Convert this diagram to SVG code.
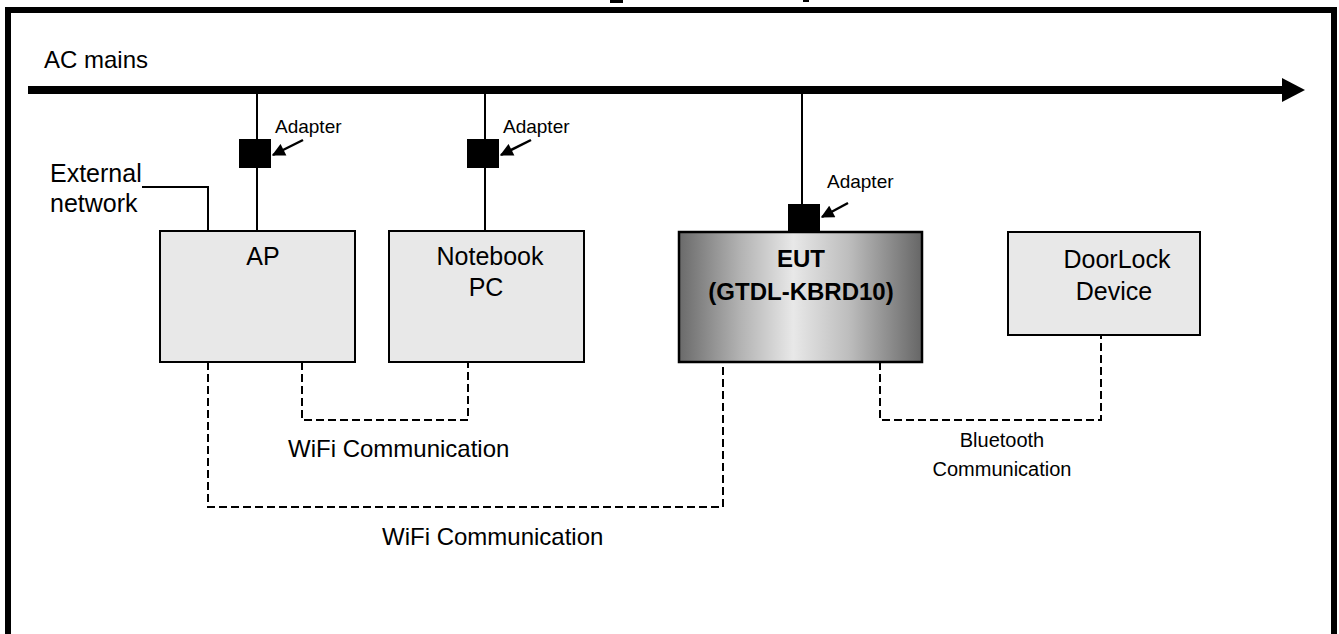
<svg xmlns="http://www.w3.org/2000/svg" width="1339" height="634" viewBox="0 0 1339 634">
  <style>
    .lbl { font-family: "Liberation Sans", Arial, sans-serif; fill: #000; }
    .box { fill: #e8e8e8; stroke: #000; stroke-width: 2; }
    .wire { stroke: #000; stroke-width: 2; fill: none; }
    .dash { stroke: #000; stroke-width: 2; stroke-dasharray: 8 4; fill: none; }
    .ptr { stroke: #000; stroke-width: 2.5; fill: none; marker-end: url(#head); }
    .plug { fill: #000; }
  </style>
  <defs>
    <linearGradient id="eutShade" x1="0" y1="0" x2="1" y2="0">
      <stop offset="0" stop-color="#6a6a6a"/>
      <stop offset="0.25" stop-color="#b2b2b2"/>
      <stop offset="0.47" stop-color="#e8e8e8"/>
      <stop offset="0.7" stop-color="#bdbdbd"/>
      <stop offset="1" stop-color="#666666"/>
    </linearGradient>
    <marker id="head" viewBox="0 0 10 10" refX="9" refY="5" markerWidth="15" markerHeight="13" markerUnits="userSpaceOnUse" orient="auto">
      <path d="M0,0 L10,5 L0,10 z" fill="#000"/>
    </marker>
  </defs>

  <rect width="1339" height="634" fill="#fff"/>

  <!-- frame (open at the bottom) -->
  <path d="M8,640 V10 H1334 V640" fill="none" stroke="#000" stroke-width="6"/>
  <rect x="610" y="0" width="13" height="3" fill="#000"/>
  <rect x="803" y="0" width="6" height="2" fill="#000"/>

  <!-- AC mains bus -->
  <g id="ac-mains">
    <text class="lbl" x="44" y="68" font-size="24">AC mains</text>
    <line x1="28" y1="90" x2="1284" y2="90" stroke="#000" stroke-width="8"/>
    <polygon points="1282,78 1305,90 1282,102" fill="#000"/>
  </g>

  <g id="connectors">
    <!-- power feeds -->
    <line class="wire" x1="257" y1="93" x2="257" y2="231"/>
    <line class="wire" x1="485" y1="93" x2="485" y2="231"/>
    <line class="wire" x1="802" y1="93" x2="802" y2="205"/>
    <!-- external network -->
    <path class="wire" d="M142,187 H208 V231"/>
    <!-- WiFi links -->
    <path class="dash" d="M302,362 V420 H468 V362"/>
    <path class="dash" d="M208,362 V507 H723 V362"/>
    <!-- Bluetooth link -->
    <path class="dash" d="M880,362 V420 H1101 V335"/>
  </g>

  <g id="adapter-ap">
    <rect class="plug" x="239" y="139" width="32" height="29"/>
    <line class="ptr" x1="303" y1="140" x2="273" y2="155"/>
    <text class="lbl" x="275" y="133" font-size="19">Adapter</text>
  </g>
  <g id="adapter-pc">
    <rect class="plug" x="467" y="139" width="32" height="29"/>
    <line class="ptr" x1="531" y1="140" x2="501" y2="155"/>
    <text class="lbl" x="503" y="133" font-size="19">Adapter</text>
  </g>
  <g id="adapter-eut">
    <rect class="plug" x="788" y="204" width="32" height="29"/>
    <line class="ptr" x1="848" y1="203" x2="822" y2="217"/>
    <text class="lbl" x="827" y="188" font-size="19">Adapter</text>
  </g>

  <g id="ext-network">
    <text class="lbl" x="50" y="182" font-size="25">External</text>
    <text class="lbl" x="50" y="212" font-size="25">network</text>
  </g>

  <g id="ap">
    <rect class="box" x="160" y="231" width="195" height="131"/>
    <text class="lbl" x="263" y="265" font-size="25" text-anchor="middle">AP</text>
  </g>

  <g id="notebook">
    <rect class="box" x="389" y="231" width="195" height="131"/>
    <text class="lbl" x="490" y="265" font-size="25" text-anchor="middle">Notebook</text>
    <text class="lbl" x="486" y="296" font-size="25" text-anchor="middle">PC</text>
  </g>

  <g id="eut">
    <rect x="679" y="232" width="243" height="130" fill="url(#eutShade)" stroke="#000" stroke-width="2.5"/>
    <text class="lbl" x="801" y="267" font-size="24" font-weight="bold" text-anchor="middle">EUT</text>
    <text class="lbl" x="801" y="300" font-size="24" font-weight="bold" text-anchor="middle">(GTDL-KBRD10)</text>
  </g>

  <g id="doorlock">
    <rect class="box" x="1008" y="232" width="192" height="103"/>
    <text class="lbl" x="1117" y="268" font-size="25" text-anchor="middle">DoorLock</text>
    <text class="lbl" x="1114" y="300" font-size="25" text-anchor="middle">Device</text>
  </g>

  <g id="link-labels">
    <text class="lbl" x="288" y="457" font-size="24">WiFi Communication</text>
    <text class="lbl" x="382" y="545" font-size="24">WiFi Communication</text>
    <text class="lbl" x="1002" y="447" font-size="20" text-anchor="middle">Bluetooth</text>
    <text class="lbl" x="1002" y="476" font-size="20" text-anchor="middle">Communication</text>
  </g>
</svg>
